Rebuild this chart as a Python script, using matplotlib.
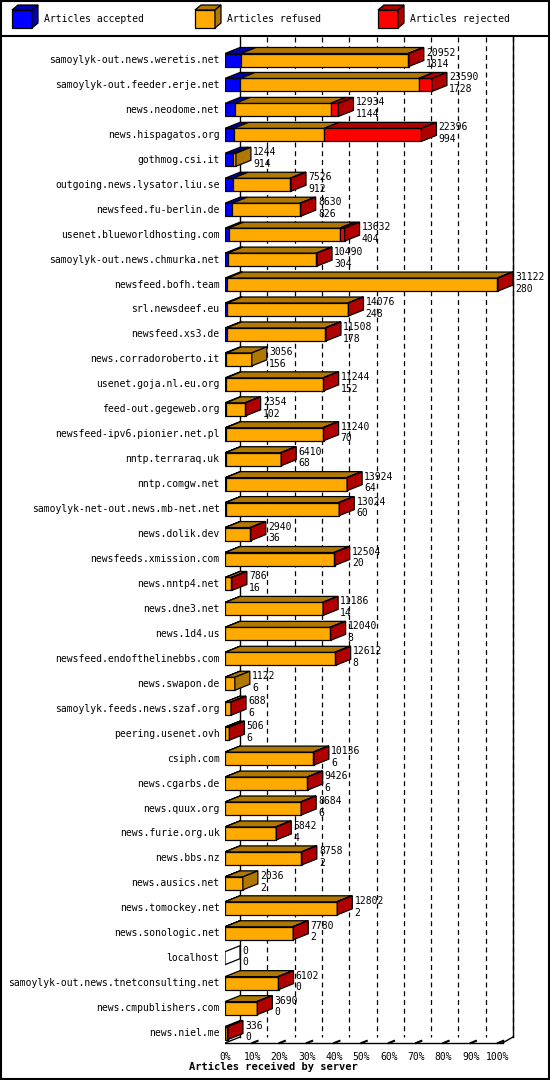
import matplotlib.pyplot as plt
from matplotlib.patches import Polygon, Rectangle

servers = [
    "samoylyk-out.news.weretis.net", "samoylyk-out.feeder.erje.net", "news.neodome.net",
    "news.hispagatos.org", "gothmog.csi.it", "outgoing.news.lysator.liu.se",
    "newsfeed.fu-berlin.de", "usenet.blueworldhosting.com", "samoylyk-out.news.chmurka.net",
    "newsfeed.bofh.team", "srl.newsdeef.eu", "newsfeed.xs3.de", "news.corradoroberto.it",
    "usenet.goja.nl.eu.org", "feed-out.gegeweb.org", "newsfeed-ipv6.pionier.net.pl",
    "nntp.terraraq.uk", "nntp.comgw.net", "samoylyk-net-out.news.mb-net.net",
    "news.dolik.dev", "newsfeeds.xmission.com", "news.nntp4.net", "news.dne3.net",
    "news.1d4.us", "newsfeed.endofthelinebbs.com", "news.swapon.de",
    "samoylyk.feeds.news.szaf.org", "peering.usenet.ovh", "csiph.com", "news.cgarbs.de",
    "news.quux.org", "news.furie.org.uk", "news.bbs.nz", "news.ausics.net",
    "news.tomockey.net", "news.sonologic.net", "localhost",
    "samoylyk-out.news.tnetconsulting.net", "news.cmpublishers.com", "news.niel.me",
]
offered = [20952, 23590, 12934, 22396, 1244, 7526, 8630, 13632, 10490, 31122, 14076,
           11508, 3056, 11244, 2354, 11240, 6410, 13924, 13024, 2940, 12504, 786, 11186,
           12040, 12612, 1122, 688, 506, 10136, 9426, 8684, 5842, 8758, 2036, 12802, 7780,
           0, 6102, 3690, 336]
accepted = [1814, 1728, 1144, 994, 914, 912, 826, 404, 304, 280, 248, 178, 156, 152,
            102, 70, 68, 64, 60, 36, 20, 16, 14, 8, 8, 6, 6, 6, 6, 6, 6, 4, 2, 2, 2, 2,
            0, 0, 0, 0]
rejected = [60, 1500, 900, 11100, 0, 100, 60, 550, 60, 80, 60, 100, 0, 60, 60, 100, 60,
            60, 60, 60, 100, 60, 60, 60, 100, 0, 60, 60, 60, 60, 60, 60, 60, 0, 60, 60,
            0, 60, 60, 60]

C_ACC, C_ACC_D = "#0000FF", "#0000B0"
C_REF, C_REF_D = "#FFAA00", "#B07800"
C_REJ, C_REJ_D = "#FF0000", "#B00000"
FONT = "DejaVu Sans Mono"

W, H = 550, 1080
fig = plt.figure(figsize=(W / 100, H / 100), dpi=100)
fig.patch.set_facecolor("white")

# pixel mapping: 0% at x=225, 2.73 px per percent; rows 24.95 px apart from y=59
x0, ppx = 225, 2.73
top_px, bot_px = 37, 1045
row0, rowh = 60, 24.95
ax = fig.add_axes([x0 / W, 1 - bot_px / H, (W - x0) / W, (bot_px - top_px) / H])
ax.set_xlim(0, (W - x0) / ppx)
ax.set_ylim((bot_px - row0) / rowh, (top_px - row0) / rowh)
ax.axis("off")

dx, dy = 15 / ppx, 6 / rowh   # depth of 3D bars
bh = 13 / rowh
floor = (bot_px - row0) / rowh - 0.08
right = (513 - x0) / ppx
mx = max(offered)

# back wall, grid, floor
ax.plot([dx, dx], [ax.get_ylim()[1], floor - dy], color="black", lw=1)
ax.plot([right, right], [ax.get_ylim()[1], floor - dy], color="black", lw=1)
for p in range(10, 101, 10):
    ax.plot([p + dx, p + dx], [ax.get_ylim()[1], floor - dy], color="black",
            lw=0.9, ls=(0, (4, 3)))
    ax.plot([p, p + dx * 0.35], [floor, floor - dy * 0.35], color="black", lw=1.5)
ax.plot([0, 100 + dx * 0.3], [floor, floor], color="black", lw=1)
ax.plot([100 + dx * 0.3, right], [floor, floor - dy], color="black", lw=1)
ax.plot([0, dx], [floor, floor - dy], color="black", lw=1)
for i in range(len(servers) + 1):
    y = i - 0.5
    ax.plot([0, dx], [y + 0.3, y + 0.3 - dy], color="black", lw=0.8)
for p in range(0, 101, 10):
    ax.text(p, floor + 0.55, f"{p}%", ha="center", va="center", fontsize=7,
            family=FONT)

for i, name in enumerate(servers):
    yc = i
    yt, yb = yc - bh / 2, yc + bh / 2
    ax.text(-2, yc, name, ha="right", va="center", fontsize=7, family=FONT,
            clip_on=False)
    tot = offered[i] / mx * 100
    segs = [(accepted[i], C_ACC, C_ACC_D),
            (offered[i] - accepted[i] - rejected[i], C_REF, C_REF_D),
            (rejected[i], C_REJ, C_REJ_D)]
    x = 0
    last_d = "white"
    for v, c, cd in segs:
        w = v / mx * 100
        if w <= 0:
            continue
        ax.add_patch(Rectangle((x, yt), w, bh, fc=c, ec="black", lw=0.9, zorder=3))
        ax.add_patch(Polygon([(x, yt), (x + w, yt), (x + w + dx, yt - dy), (x + dx, yt - dy)],
                             closed=True, fc=cd, ec="black", lw=0.9, zorder=3))
        x += w
        last_d = cd
    ax.add_patch(Polygon([(tot, yt), (tot + dx, yt - dy), (tot + dx, yb - dy), (tot, yb)],
                         closed=True, fc=last_d, ec="black", lw=0.9, zorder=3))
    ax.text(tot + dx + 0.8, yc - 0.3, str(offered[i]), ha="left", va="center",
            fontsize=7, family=FONT, zorder=4)
    ax.text(tot + dx + 0.8, yc + 0.17, str(accepted[i]), ha="left", va="center",
            fontsize=7, family=FONT, zorder=4)

fig.text(273 / W, 1 - 1067 / H, "Articles received by server", ha="center",
         va="center", fontsize=7.5, family=FONT, weight="bold")

# legend strip
lg = fig.add_axes([0, 1 - 36 / H, 1, 36 / H])
lg.set_xlim(0, W)
lg.set_ylim(36, 0)
lg.axis("off")
for lx, label, c, cd in [(12, "Articles accepted", C_ACC, C_ACC_D),
                         (195, "Articles refused", C_REF, C_REF_D),
                         (378, "Articles rejected", C_REJ, C_REJ_D)]:
    lg.add_patch(Rectangle((lx, 10), 20, 18, fc=c, ec="black", lw=0.9))
    lg.add_patch(Polygon([(lx, 10), (lx + 20, 10), (lx + 26, 5), (lx + 6, 5)],
                         fc=cd, ec="black", lw=0.9))
    lg.add_patch(Polygon([(lx + 20, 10), (lx + 26, 5), (lx + 26, 23), (lx + 20, 28)],
                         fc=cd, ec="black", lw=0.9))
    lg.text(lx + 32, 19, label, ha="left", va="center", fontsize=7, family=FONT)

# frame
fig.add_artist(plt.Line2D([0, 1], [1 - 36 / H, 1 - 36 / H], color="black", lw=1.5,
                          transform=fig.transFigure))
fig.add_artist(Rectangle((0.001, 0.001), 0.998, 0.998, fill=False, ec="black", lw=1.5,
                         transform=fig.transFigure))

fig.savefig("out.png", dpi=100)
